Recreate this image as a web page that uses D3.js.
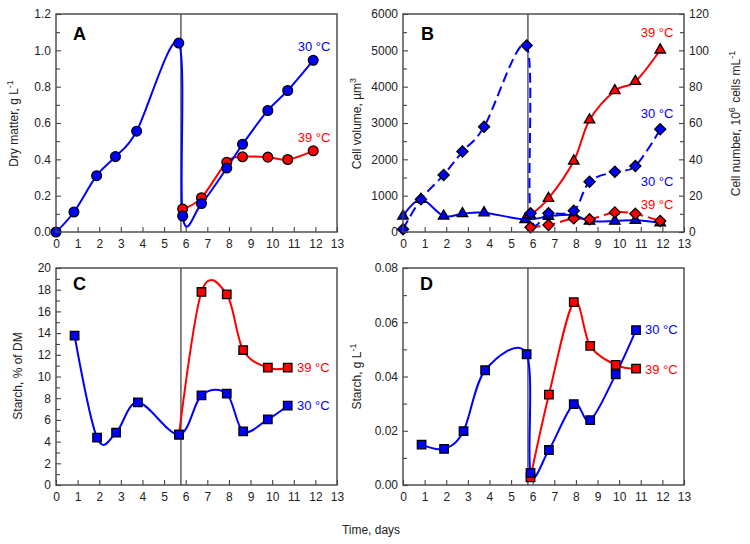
<!DOCTYPE html>
<html>
<head>
<meta charset="utf-8">
<script src="https://cdn.jsdelivr.net/npm/d3@7"></script>
<style>
  body { margin: 0; background: #fff; }
  svg { display: block; }
</style>
</head>
<body>
<div id="chart"></div>
<script>
// ---- data ----
var dayTicks = [0, 1, 2, 3, 4, 5, 6, 7, 8, 9, 10, 11, 12, 13];
var transferDay = 5.78;

// A: dry matter, g/L
var dmDays30 = [0, 0.83, 1.88, 2.75, 3.73, 5.68, 5.86, 6.73, 7.9, 8.63, 9.8, 10.72, 11.9];
var dm30 = [0, 0.11, 0.31, 0.415, 0.555, 1.04, 0.088, 0.157, 0.352, 0.483, 0.669, 0.779, 0.945];
var dmDays39 = [5.86, 6.73, 7.9, 8.63, 9.8, 10.72, 11.9];
var dm39 = [0.127, 0.189, 0.384, 0.414, 0.412, 0.399, 0.447];
var dmTicks = [0, 0.2, 0.4, 0.6, 0.8, 1.0, 1.2];

// B: cell volume (triangles, left axis) and cell number (diamonds, right axis)
var volDays30 = [0, 0.83, 1.88, 2.75, 3.75, 5.65, 6.73, 7.9, 8.63, 9.8, 10.75, 11.9];
var vol30 = [440, 900, 440, 505, 530, 345, 430, 470, 300, 300, 325, 255];
var volDays39 = [5.88, 6.73, 7.9, 8.63, 9.8, 10.75, 11.9];
var vol39 = [470, 925, 1955, 3085, 3890, 4145, 5010];
var numDays30 = [0, 0.83, 1.88, 2.75, 3.75, 5.72, 5.9, 6.73, 7.9, 8.63, 9.8, 10.75, 11.9];
var num30 = [1.5, 18, 31.4, 44.3, 57.9, 102.6, 10.3, 10.3, 11.7, 27.7, 33.2, 36.3, 56.5];
var numDays39 = [5.9, 6.73, 7.9, 8.63, 9.8, 10.75, 11.9];
var num39 = [2.6, 3.8, 7.5, 7.0, 10.8, 10.0, 6.1];
var volTicks = [0, 1000, 2000, 3000, 4000, 5000, 6000];
var numTicks = [0, 20, 40, 60, 80, 100, 120];

// C: starch, % of DM
var spDays30 = [0.86, 1.9, 2.78, 3.79, 5.69, 6.73, 7.9, 8.66, 9.8, 10.72];
var sp30 = [13.76, 4.36, 4.82, 7.62, 4.64, 8.26, 8.42, 4.95, 6.05, 7.31];
var spDays39 = [5.69, 6.73, 7.9, 8.66, 9.8, 10.72];
var sp39 = [4.64, 17.79, 17.57, 12.44, 10.81, 10.81];
var spTicks = [0, 2, 4, 6, 8, 10, 12, 14, 16, 18, 20];

// D: starch, g/L
var sgDays30 = [0.86, 1.9, 2.8, 3.8, 5.72, 5.9, 6.75, 7.9, 8.66, 9.84, 10.78];
var sg30 = [0.0149, 0.0133, 0.0199, 0.0423, 0.0482, 0.0045, 0.0129, 0.0298, 0.0239, 0.0408, 0.0571];
var sgDays39 = [5.9, 6.75, 7.9, 8.66, 9.84, 10.78];
var sg39 = [0.0028, 0.0333, 0.0674, 0.0513, 0.0443, 0.0429];
var sgTicks = [0, 0.02, 0.04, 0.06, 0.08];

var BLUE = "#0000ff", RED = "#ff0000";

var svg = d3.select("#chart")
  .append("svg")
    .attr("width", 750)
    .attr("height", 544)
    .style("font-family", "'Liberation Sans', Arial, sans-serif");

var zip = function(xs, ys) { return xs.map(function(d, i) { return [d, ys[i]]; }); };

// builds one panel: frame, x axis, left axis, divider
function panel(id, box, yMax, yTicks, yMinor, yFmt) {
  var x = d3.scaleLinear().domain([0, 13]).range([box.l, box.r]);
  var y = d3.scaleLinear().domain([0, yMax]).range([box.b, box.t]);
  var g = svg.append("g");

  svg.append("clipPath").attr("id", "clip" + id)
    .append("rect")
      .attr("x", box.l).attr("y", box.t)
      .attr("width", box.r - box.l).attr("height", box.b - box.t);

  g.append("g")
    .attr("transform", "translate(0," + box.b + ")")
    .call(d3.axisBottom(x).tickValues(dayTicks).tickSize(-5).tickPadding(7).tickFormat(d3.format("d")));
  g.append("g")
    .attr("transform", "translate(" + box.l + ",0)")
    .call(d3.axisLeft(y).tickValues(yTicks).tickSize(-5).tickPadding(5).tickFormat(yFmt));
  g.append("g")
    .attr("transform", "translate(" + box.l + ",0)")
    .call(d3.axisLeft(y).tickValues(yMinor).tickSize(-4).tickFormat(""));
  styleAxis(g);

  g.append("line")
    .attr("x1", x(transferDay)).attr("x2", x(transferDay))
    .attr("y1", box.t).attr("y2", box.b)
    .attr("stroke", "#333").attr("stroke-width", 1.2);

  var plot = svg.append("g").attr("clip-path", "url(#clip" + id + ")");
  var marks = svg.append("g");

  svg.append("rect")
    .attr("x", box.l).attr("y", box.t)
    .attr("width", box.r - box.l).attr("height", box.b - box.t)
    .attr("fill", "none").attr("stroke", "#444").attr("stroke-width", 1.4);

  return { x: x, y: y, g: g, plot: plot, marks: marks };
}

function styleAxis(g) {
  g.selectAll(".domain").remove();
  g.selectAll(".tick line").attr("stroke", "#444").attr("stroke-width", 1.1);
  g.selectAll(".tick text").attr("fill", "#222").style("font-size", "12px");
}

function curve(p, pts, yScale, color, dashed) {
  var line = d3.line()
    .x(function(d) { return p.x(d[0]); })
    .y(function(d) { return yScale(d[1]); })
    .curve(d3.curveCatmullRom.alpha(0));
  p.plot.append("path")
    .datum(pts)
    .attr("d", line)
    .attr("fill", "none")
    .attr("stroke", color)
    .attr("stroke-width", 2)
    .attr("stroke-dasharray", dashed ? "10,5" : null);
}

function markers(p, pts, yScale, color, shape) {
  var sym = {
    circle: d3.symbol().type(d3.symbolCircle).size(75),
    square: d3.symbol().type(d3.symbolSquare).size(72),
    diamond: d3.symbol().type(d3.symbolSquare).size(62),
    triangle: d3.symbol().type(d3.symbolTriangle).size(48)
  }[shape];
  p.marks.selectAll(null)
    .data(pts)
    .enter()
    .append("path")
      .attr("d", sym)
      .attr("transform", function(d) {
        return "translate(" + p.x(d[0]) + "," + yScale(d[1]) + ")" + (shape === "diamond" ? " rotate(45)" : "");
      })
      .attr("fill", color)
      .attr("stroke", "#000")
      .attr("stroke-width", 1.3);
}

function label(txt, x, y, color, anchor, size, bold) {
  svg.append("text")
    .attr("x", x).attr("y", y)
    .attr("fill", color)
    .attr("text-anchor", anchor || "start")
    .style("font-size", (size || 13) + "px")
    .style("font-weight", bold ? "bold" : null)
    .text(txt);
}

// rotated axis title; parts are plain strings or {sup: "..."} superscripts
function yTitle(parts, x, y) {
  var t = svg.append("text")
    .attr("transform", "translate(" + x + "," + y + ") rotate(-90)")
    .attr("text-anchor", "middle")
    .attr("fill", "#222")
    .style("font-size", "12px");
  parts.forEach(function(s) {
    if (typeof s === "string") {
      t.append("tspan").text(s);
    } else {
      t.append("tspan").attr("dy", -5).style("font-size", "9px").text(s.sup);
      t.append("tspan").attr("dy", 5).text("\u200a");
    }
  });
}

var fmt1 = d3.format(".1f");

// ---- A ----
var pA = panel("A", { l: 56, r: 337, t: 14, b: 232 }, 1.2, dmTicks, d3.range(0.1, 1.2, 0.2), fmt1);
curve(pA, zip(dmDays39, dm39), pA.y, RED);
curve(pA, zip(dmDays30, dm30), pA.y, BLUE);
markers(pA, zip(dmDays39, dm39), pA.y, RED, "circle");
markers(pA, zip(dmDays30, dm30), pA.y, BLUE, "circle");

// ---- B ----
var pB = panel("B", { l: 403, r: 684, t: 14, b: 232 }, 6000, volTicks, d3.range(500, 6000, 1000), d3.format("d"));
var yNum = d3.scaleLinear().domain([0, 120]).range([232, 14]);
pB.g.append("g")
  .attr("transform", "translate(684,0)")
  .call(d3.axisRight(yNum).tickValues(numTicks).tickSize(-5).tickPadding(5));
pB.g.append("g")
  .attr("transform", "translate(684,0)")
  .call(d3.axisRight(yNum).tickValues(d3.range(10, 120, 20)).tickSize(-4).tickFormat(""));
styleAxis(pB.g);
curve(pB, zip(volDays39, vol39), pB.y, RED);
curve(pB, zip(numDays39, num39), yNum, RED, true);
curve(pB, zip(volDays30, vol30), pB.y, BLUE);
curve(pB, zip(numDays30, num30), yNum, BLUE, true);
markers(pB, zip(volDays30, vol30), pB.y, BLUE, "triangle");
markers(pB, zip(volDays39, vol39), pB.y, RED, "triangle");
markers(pB, zip(numDays39, num39), yNum, RED, "diamond");
markers(pB, zip(numDays30, num30), yNum, BLUE, "diamond");

// ---- C ----
var pC = panel("C", { l: 56, r: 337, t: 268, b: 485 }, 20, spTicks, d3.range(1, 20, 2), d3.format("d"));
curve(pC, zip(spDays39, sp39), pC.y, RED);
curve(pC, zip(spDays30, sp30), pC.y, BLUE);
markers(pC, zip(spDays39, sp39), pC.y, RED, "square");
markers(pC, zip(spDays30, sp30), pC.y, BLUE, "square");

// ---- D ----
var pD = panel("D", { l: 403, r: 684, t: 268, b: 485 }, 0.08, sgTicks, d3.range(0.01, 0.08, 0.02), d3.format(".2f"));
curve(pD, zip(sgDays39, sg39), pD.y, RED);
curve(pD, zip(sgDays30, sg30), pD.y, BLUE);
markers(pD, zip(sgDays39, sg39), pD.y, RED, "square");
markers(pD, zip(sgDays30, sg30), pD.y, BLUE, "square");

// panel letters
label("A", 73, 40, "#000", "start", 18, true);
label("B", 421, 40, "#000", "start", 18, true);
label("C", 73, 290, "#000", "start", 18, true);
label("D", 420, 290, "#000", "start", 18, true);

// series labels
label("30 \u00b0C", 314, 51, BLUE, "middle");
label("39 \u00b0C", 314, 142, RED, "middle");
label("39 \u00b0C", 657, 37, RED, "middle");
label("30 \u00b0C", 657, 118, BLUE, "middle");
label("30 \u00b0C", 657, 186, BLUE, "middle");
label("39 \u00b0C", 657, 209, RED, "middle");
label("39 \u00b0C", 297, 372, RED);
label("30 \u00b0C", 297, 410, BLUE);
label("30 \u00b0C", 645, 334, BLUE);
label("39 \u00b0C", 645, 374, RED);

// axis titles
yTitle(["Dry matter, g L", { sup: "-1" }], 18, 123);
yTitle(["Cell volume, \u00b5m", { sup: "3" }], 361, 123);
yTitle(["Cell number, 10", { sup: "6" }, " cells mL", { sup: "-1" }], 740, 123);
yTitle(["Starch, % of DM"], 22, 376);
yTitle(["Starch, g L", { sup: "-1" }], 361, 376);
svg.append("text")
  .attr("x", 371).attr("y", 534)
  .attr("text-anchor", "middle")
  .attr("fill", "#222")
  .style("font-size", "12px")
  .text("Time, days");
</script>
</body>
</html>
